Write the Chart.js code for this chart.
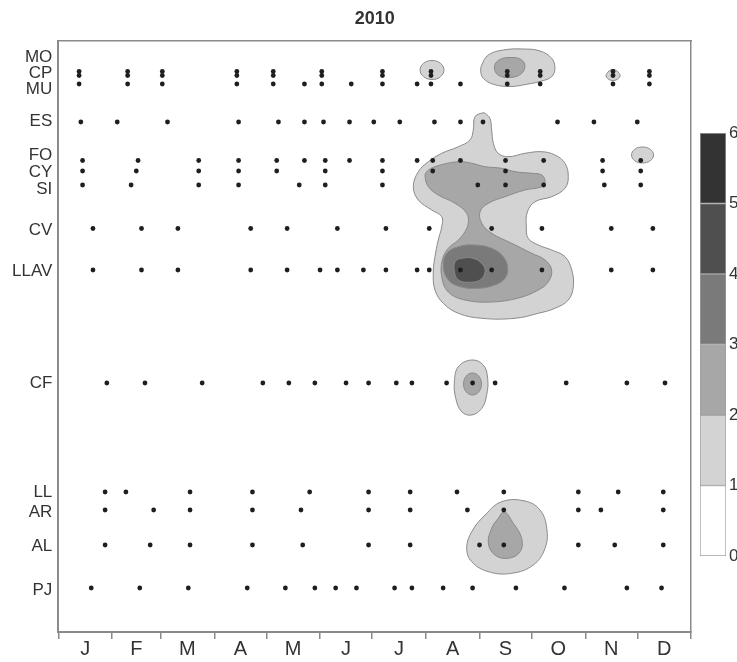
<!DOCTYPE html>
<html><head><meta charset="utf-8">
<script src="https://cdn.jsdelivr.net/npm/chart.js@4.4.1/dist/chart.umd.min.js"></script>
<style>
html,body{margin:0;padding:0;background:#fff;}
#wrap{position:relative;width:737px;height:662px;overflow:hidden;}
#main{position:absolute;left:0;top:0;width:737px;height:662px;}
#bar{position:absolute;left:700px;top:0;width:37px;height:662px;}
</style></head><body>
<div id="wrap"><canvas id="main" width="737" height="662"></canvas><canvas id="bar" width="37" height="662"></canvas></div>
<script>
const FONT = "'Liberation Sans', Arial, sans-serif";
const titleText = '2010';
const monthLabels = ['J','F','M','A','M','J','J','A','S','O','N','D'];
const monthStarts = [0,31,59,90,120,151,181,212,243,273,304,334,365];

const siteNames    = ['MO','CP','MU','ES','FO','CY','SI','CV','LLAV','CF','LL','AR','AL','PJ'];
const siteLabelPos = [16, 32, 48, 80, 114, 131, 148, 189, 230, 342, 451, 471, 505, 549];
const siteRowPos   = [30.5, 34.5, 43, 81, 119.5, 130, 144, 187.5, 229, 342, 451, 469, 504, 547];

// sampling days (day of year) per site
const sampMO   = [12,40,60,103,124,152,187,215,259,278,320,341];
const sampCP   = [12,40,60,103,124,152,187,215,259,278,320,341];
const sampMU   = [12,40,60,103,124,142,152,169,187,207,215,232,259,278,320,341];
const sampES   = [13,34,63,104,127,142,153,168,182,197,217,232,245,288,309,334];
const sampFO   = [14,46,81,104,126,142,154,168,187,207,216,232,258,280,314,336];
const sampCY   = [14,45,81,104,126,154,187,216,258,314,336];
const sampSI   = [14,42,81,104,139,154,187,242,258,280,315,336];
const sampCV   = [20,48,69,111,132,161,189,214,250,279,319,343];
const sampLLAV = [20,48,69,111,132,151,161,176,189,207,214,232,250,279,319,343];
const sampCF   = [28,50,83,118,133,148,166,179,195,204,224,239,252,293,328,350];
const sampLL   = [27,39,76,112,145,179,203,230,257,300,323,349];
const sampAR   = [27,55,76,112,140,179,203,236,257,300,313,349];
const sampAL   = [27,53,76,112,141,179,203,243,257,300,321,349];
const sampPJ   = [19,47,75,109,131,148,160,172,194,204,222,239,264,292,328,348];
const siteSamples = [sampMO,sampCP,sampMU,sampES,sampFO,sampCY,sampSI,sampCV,sampLLAV,sampCF,sampLL,sampAR,sampAL,sampPJ];

// colour scale
const levelTicks  = [0,1,2,3,4,5,6];
const levelColors = ['#ffffff','#d3d3d3','#a7a7a7','#7a7a7a','#4f4f4f','#333333'];

// contour polygons [day, position]
const c1Main = [[245.2,71.7],[240.4,75.7],[239.4,89],[237.5,99],[230.8,105.7],[221.2,112.3],[213.5,120.7],[207.7,130.7],[204.8,145.7],[207.7,159],[215.4,169],[221.2,175.7],[221.2,185.7],[219.2,199],[217.3,215.7],[216.3,232.3],[217.3,249],[222.1,262.3],[230.8,272.3],[244.3,277.3],[263.5,277.3],[276.9,272.3],[286.5,267.3],[294.2,259],[297.1,245.7],[296.2,229],[292.3,215.7],[284.6,209],[276.9,204],[271.1,197.3],[270.0,185.7],[270.6,171],[275.0,160.7],[284.6,155.7],[292.3,147.3],[294.2,135.7],[292.3,122.3],[286.5,114],[278.9,110.7],[269.2,112.3],[259.6,115.7],[253.8,112.3],[251.0,102.3],[250.0,89],[249.0,77.3],[246.2,72.3]];
const c2Main = [[212.5,130.7],[217.3,125.7],[230.6,120.7],[238.5,122.3],[246.2,125.7],[255.8,127.3],[263.5,130.7],[273.1,132.3],[278.9,134],[280.8,140.7],[278.9,145.7],[269.2,149],[257.7,155.7],[248.1,162.3],[243.3,170.7],[244.3,182.3],[250.0,192.3],[261.6,202.3],[273.1,212.3],[280.8,219],[284.6,229],[282.7,240.7],[276.9,249],[265.4,257],[250.0,261],[234.6,259],[225.0,251],[221.2,235.7],[221.5,219],[225.0,207.3],[230.8,199],[234.6,190.7],[236.5,182.3],[235.6,172.3],[228.9,162.3],[219.2,154],[213.5,145.7],[211.6,135.7]];
const c3Main = [[222.1,225.7],[224.1,212.3],[230.8,205.7],[240.4,204],[250.0,207.3],[256.7,215.7],[259.3,227.3],[257.7,237.3],[251.9,244],[242.3,247.3],[231.7,245.7],[225.0,239]];
const c4Main = [[228.9,220.7],[232.7,217.3],[239.4,217.3],[244.6,223],[246.2,230.7],[243.3,239],[236.5,241.3],[230.8,239],[228.5,230.7]];
const c1TopSmall = [[222.5,29],[220.5,35.7],[215.6,38.5],[210.7,35.7],[208.7,29],[210.7,22.3],[215.6,19.5],[220.5,22.3]];
const c1TopBig = [[244.3,24],[248.1,14],[256.7,9],[268.3,8],[277.9,10],[284.6,17.3],[286.5,27.3],[284.6,35.7],[278.9,40],[270.2,43.3],[260.6,45.5],[251.0,43.3],[245.2,37.3],[243.7,30.7]];
const c2TopBig = [[269.2,25],[266.9,33],[260.6,36.5],[253.7,34],[251.6,26],[254.2,19],[260.6,16.5],[266.9,18.5]];
const c1Nov = [[324.1,35],[321.7,39],[318.3,39],[316.0,35],[317.7,30],[320.0,28.5],[322.3,30]];
const c1Dec = [[343.4,114],[341.5,119.7],[337.0,122],[332.5,119.7],[330.7,114],[332.5,108.3],[337.0,106],[341.5,108.3]];
const c1CF = [[238.5,319],[245.2,324],[247.7,337.3],[247.1,354],[244.3,367.3],[238.5,374],[232.7,370.7],[229.3,357.3],[228.5,340.7],[230.8,325.7]];
const c2CF = [[244.1,343],[242.6,350.8],[238.9,354],[235.3,350.8],[233.8,343],[235.3,335.2],[238.9,332],[242.6,335.2]];
const c1AL = [[255.8,460.7],[269.2,460],[277.9,469],[281.8,487.3],[280.8,507.3],[274.0,524],[261.6,532.3],[248.1,530.7],[238.5,520.7],[235.6,507.3],[238.5,490.7],[246.2,474]];
const c2AL = [[257.3,470.7],[262.5,482.3],[267.3,497.3],[266.4,510.7],[259.6,517.3],[251.9,514],[248.1,502.3],[250.0,487.3],[253.8,477.3]];

const contours = [
  {level:1, pts:c1Main}, {level:1, pts:c1TopSmall}, {level:1, pts:c1TopBig}, {level:1, pts:c1Nov},
  {level:1, pts:c1Dec}, {level:1, pts:c1CF}, {level:1, pts:c1AL},
  {level:2, pts:c2Main}, {level:2, pts:c2TopBig}, {level:2, pts:c2CF}, {level:2, pts:c2AL},
  {level:3, pts:c3Main},
  {level:4, pts:c4Main}
];

const monthMid = monthStarts.slice(0,12).map((s,i)=>(s+monthStarts[i+1])/2);

const dots = [];
siteSamples.forEach((arr,i)=>arr.forEach(d=>dots.push({x:d, y:siteRowPos[i]})));

const datasets = [{
  type:'scatter', data:dots, order:0, pointRadius:2.4, pointBackgroundColor:'#1e1e1e',
  pointBorderWidth:0, xAxisID:'x', yAxisID:'y'
}].concat(contours.map(c=>({
  type:'line', closedShape:true,
  data:c.pts.map(p=>({x:p[0], y:p[1]})),
  fill:'shape', backgroundColor:levelColors[c.level], borderColor:'#8a8a8a', borderWidth:1,
  pointRadius:0, tension:0.4, order:10-c.level, xAxisID:'x', yAxisID:'y'
})));

const closeLoops = {
  id:'closeLoops',
  afterDatasetsUpdate(chart){
    chart.data.datasets.forEach((ds,i)=>{
      if(!ds.closedShape) return;
      const line = chart.getDatasetMeta(i).dataset;
      if(!line) return;
      line._loop = true; line._fullLoop = true;
      line._pointsUpdated = false; line._segments = undefined; line._path = undefined;
    });
  }
};

const axisColor = '#8a8a8a';
new Chart(document.getElementById('main'), {
  type:'scatter',
  data:{datasets},
  plugins:[closeLoops],
  options:{
    responsive:false, animation:false, events:[], devicePixelRatio:1,
    layout:{padding:{left:0, right:46, top:0, bottom:0}},
    plugins:{
      legend:{display:false}, tooltip:{enabled:false},
      title:{display:true, text:titleText, fullSize:false, color:'#333',
        font:{family:FONT, size:18, weight:'bold', lineHeight:1.2}, padding:{top:8, bottom:11.4}}
    },
    scales:{
      x:{type:'linear', position:'bottom', min:0, max:365,
        afterBuildTicks:ax=>{ax.ticks = monthStarts.map(v=>({value:v}));},
        ticks:{display:false},
        grid:{display:true, drawOnChartArea:false, drawTicks:true, tickLength:7, color:axisColor, lineWidth:1.5},
        border:{display:true, color:axisColor, width:2},
        afterFit:ax=>{ax.height = 7;}
      },
      xl:{type:'linear', position:'bottom', min:0, max:365,
        afterBuildTicks:ax=>{ax.ticks = monthMid.map(v=>({value:v}));},
        ticks:{autoSkip:false, maxRotation:0, minRotation:0, padding:0, color:'#333',
          font:{family:FONT, size:20, lineHeight:1}, callback:(v,i)=>monthLabels[i]},
        grid:{display:false, drawTicks:false},
        border:{display:false},
        afterFit:ax=>{ax.height = 23;}
      },
      xt:{type:'linear', position:'top', min:0, max:365, ticks:{display:false},
        grid:{display:false, drawTicks:false}, border:{display:true, color:axisColor, width:1.5},
        afterFit:ax=>{ax.height = 0;}
      },
      y:{type:'linear', position:'left', reverse:true, min:0, max:591,
        afterBuildTicks:ax=>{ax.ticks = siteLabelPos.map(v=>({value:v}));},
        ticks:{autoSkip:false, padding:6, color:'#333', font:{family:FONT, size:17},
          callback:(v,i)=>siteNames[i]},
        grid:{display:false, drawTicks:false},
        border:{display:true, color:axisColor, width:2},
        afterFit:ax=>{ax.width = 58.3;}
      },
      yr:{type:'linear', position:'right', min:0, max:591, ticks:{display:false},
        grid:{display:false, drawTicks:false}, border:{display:true, color:axisColor, width:1.5},
        afterFit:ax=>{ax.width = 0;}
      }
    }
  }
});

new Chart(document.getElementById('bar'), {
  type:'bar',
  data:{labels:['v'], datasets:levelColors.map((c,i)=>({
    data:[levelTicks[i+1]-levelTicks[i]], backgroundColor:c, borderColor:'#a0a0a0', borderWidth:1,
    borderSkipped:false, barPercentage:1, categoryPercentage:1, stack:'s'
  }))},
  options:{
    responsive:false, animation:false, events:[], devicePixelRatio:1,
    layout:{padding:{top:133, bottom:106, left:0, right:0}},
    plugins:{legend:{display:false}, tooltip:{enabled:false}, title:{display:false}},
    scales:{
      x:{display:false, stacked:true},
      y:{position:'right', stacked:true, min:0, max:6,
        afterBuildTicks:ax=>{ax.ticks = levelTicks.map(v=>({value:v}));},
        ticks:{padding:3, color:'#333', font:{family:FONT, size:17}},
        grid:{display:false, drawTicks:false}, border:{display:false},
        afterFit:ax=>{ax.width = 11;}
      }
    }
  }
});
</script>
</body></html>
